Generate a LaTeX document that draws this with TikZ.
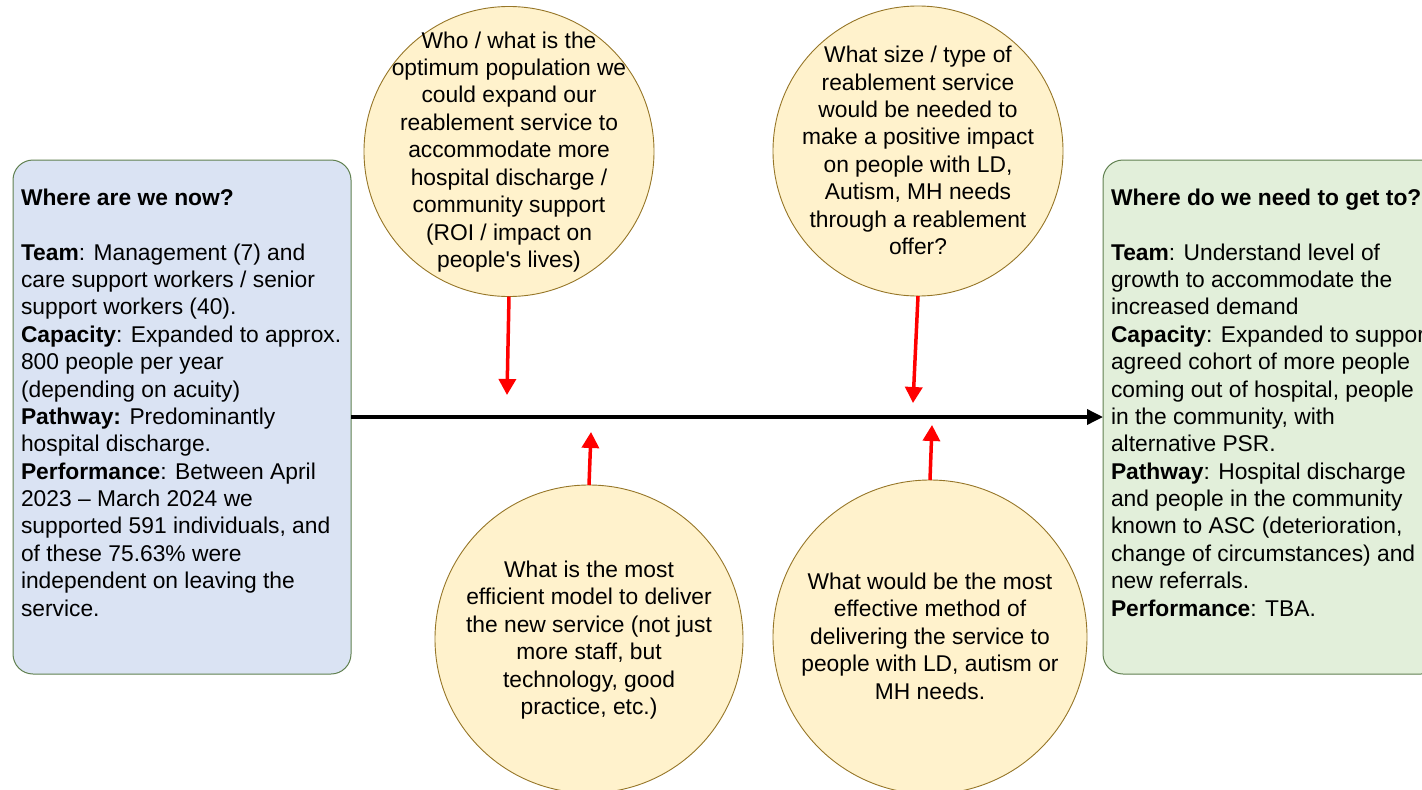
\documentclass[tikz,border=0pt]{standalone}
\usepackage{fontspec}
\setmainfont{Liberation Sans}
\usetikzlibrary{arrows.meta}
\definecolor{leftfill}{RGB}{218,227,243}
\definecolor{rightfill}{RGB}{226,239,218}
\definecolor{boxline}{RGB}{96,128,80}
\definecolor{bubblefill}{RGB}{255,242,204}
\definecolor{bubbleline}{RGB}{150,118,40}
\begin{document}
\begin{tikzpicture}[x=1pt,y=-1pt,
  every node/.style={inner sep=0pt, outer sep=0pt},
  infobox/.style={draw=boxline, line width=1pt, rounded corners=20pt, minimum width=338pt, minimum height=514pt},
  bubble/.style={circle, draw=bubbleline, fill=bubblefill, line width=0.9pt},
  boxtxt/.style={font=\fontsize{22.8}{27.38}\selectfont, text=black, align=left, anchor=north west},
  bubbletxt/.style={font=\fontsize{22.8}{27.45}\selectfont, text=black, align=center},
  redarrow/.style={draw=red, line width=3.5pt, -{Triangle[width=17pt,length=16pt]}},
  mainarrow/.style={draw=black, line width=3.5pt, -{Triangle[width=15pt,length=16pt]}}
]
\path[use as bounding box] (0,0) rectangle (1422,790);
\clip (0,0) rectangle (1422,790);

% info boxes
\node[infobox, fill=leftfill] (now) at (182,417) {};
\node[infobox, fill=rightfill] (goal) at (1272,417) {};

\node[boxtxt] (nowtxt) at (21,186) {\strut\textbf{Where are we now?}\\[27.6pt]
\textbf{Team}: Management (7) and\\
care support workers / senior\\
support workers (40).\\
\textbf{Capacity}: Expanded to approx.\\
800 people per year\\
(depending on acuity)\\
\textbf{Pathway:} Predominantly\\
hospital discharge.\\
\textbf{Performance}: Between April\\
2023 – March 2024 we\\
supported 591 individuals, and\\
of these 75.63\% were\\
independent on leaving the\\
service.};

\node[boxtxt] (goaltxt) at (1111,186) {\strut\textbf{Where do we need to get to?}\\[27.6pt]
\textbf{Team}: Understand level of\\
growth to accommodate the\\
increased demand\\
\textbf{Capacity}: Expanded to support\\
agreed cohort of more people\\
coming out of hospital, people\\
in the community, with\\
alternative PSR.\\
\textbf{Pathway}: Hospital discharge\\
and people in the community\\
known to ASC (deterioration,\\
change of circumstances) and\\
new referrals.\\
\textbf{Performance}: TBA.};

% main arrow
\draw[mainarrow] (now.east) -- (goal.west);

% bubbles
\node[bubble, minimum size=290pt] (q1) at (509,151.5) {};
\node[bubble, minimum size=290pt] (q2) at (918,151) {};
\node[bubble, minimum size=308pt] (q3) at (589,639) {};
\node[bubble, minimum size=314pt] (q4) at (930,637) {};

\node[bubbletxt] (q1txt) at (509,152) {Who / what is the\\
optimum population we\\
could expand our\\
reablement service to\\
accommodate more\\
hospital discharge /\\
community support\\
(ROI / impact on\\
people\textquotesingle s lives)};

\node[bubbletxt] (q2txt) at (918,150.5) {What size / type of\\
reablement service\\
would be needed to\\
make a positive impact\\
on people with LD,\\
Autism, MH needs\\
through a reablement\\
offer?};

\node[bubbletxt] (q3txt) at (589,640) {What is the most\\
efficient model to deliver\\
the new service (not just\\
more staff, but\\
technology, good\\
practice, etc.)};

\node[bubbletxt] (q4txt) at (930,636) {What would be the most\\
effective method of\\
delivering the service to\\
people with LD, autism or\\
MH needs.};

% red arrows
\coordinate (t1) at (507,395);
\coordinate (t2) at (913,403);
\coordinate (t3) at (591,432);
\coordinate (t4) at (932,425);
\draw[redarrow] (q1.south) -- (t1);
\draw[redarrow] (q2.south) -- (t2);
\draw[redarrow] (q3.north) -- (t3);
\draw[redarrow] (q4.north) -- (t4);
\end{tikzpicture}
\end{document}
